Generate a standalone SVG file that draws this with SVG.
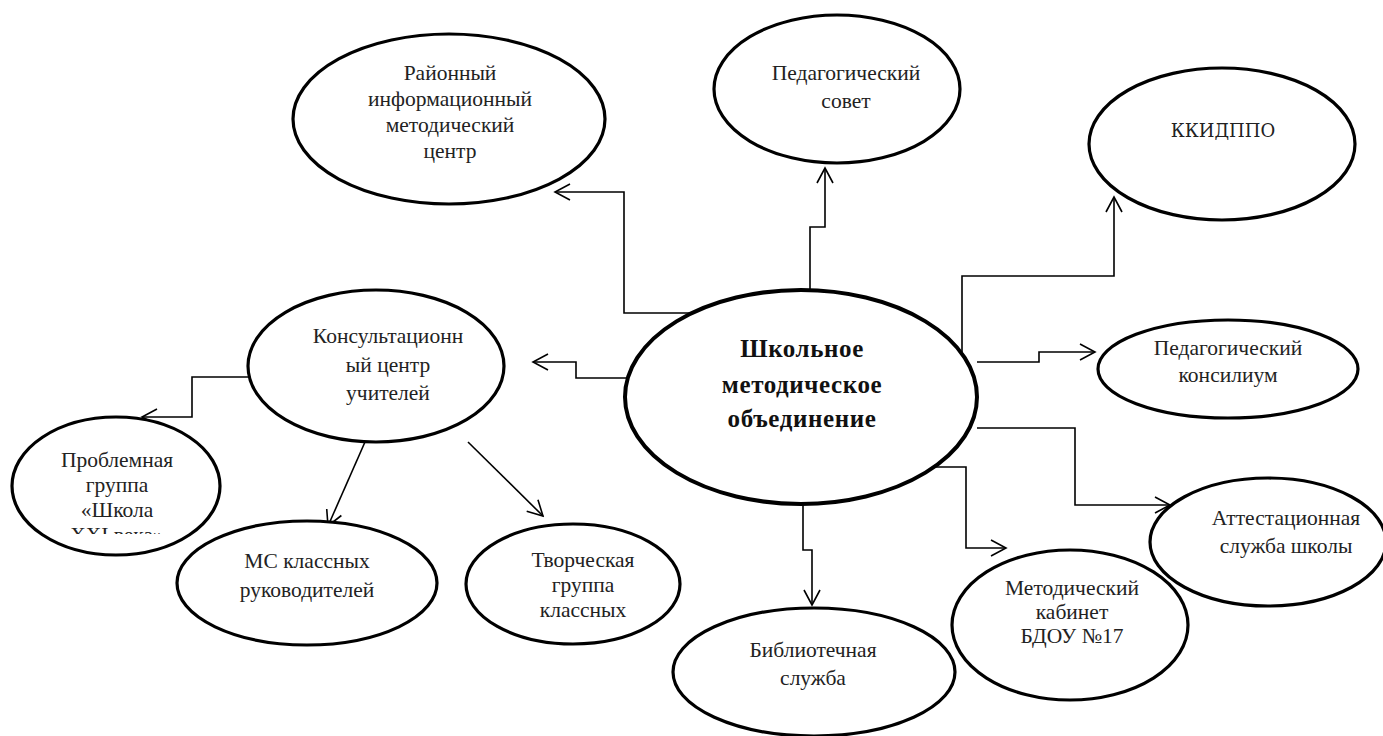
<svg xmlns="http://www.w3.org/2000/svg" width="1383" height="736" viewBox="0 0 1383 736">
<style>
.n ellipse{fill:#fff;stroke:#000;stroke-width:3.2}
.t{font-family:"Liberation Serif","Times New Roman",serif;font-size:21.5px;fill:#222;text-anchor:middle}
.k{font-family:"DejaVu Serif","Liberation Serif",serif;font-size:18px;fill:#222;text-anchor:middle}
.b{font-family:"Liberation Serif","Times New Roman",serif;font-size:25px;font-weight:bold;fill:#111;text-anchor:middle;letter-spacing:0.6px}
.c polyline{fill:none;stroke:#000;stroke-width:1.6;marker-end:url(#ah)}
</style>
<defs>
<marker id="ah" viewBox="-16 -10 18 20" refX="0" refY="0" markerWidth="18" markerHeight="20" markerUnits="userSpaceOnUse" orient="auto">
<path d="M-15,-8 L0,0 L-15,8" fill="none" stroke="#000" stroke-width="1.6"/>
</marker>
<clipPath id="cp"><rect x="0" y="0" width="300" height="534"/></clipPath>
</defs>
<rect width="1383" height="736" fill="#fff"/>
<g class="c" id="connectors">
<polyline points="700,313 624,313 624,192 555,192"/>
<polyline points="810,290 810,227 825,227 825,168"/>
<polyline points="962,352 962,276 1114,276 1114,197"/>
<polyline points="627,378 576,378 576,362 533,362"/>
<polyline points="248,377 192,377 192,417 142,417"/>
<polyline points="365,442 328,526"/>
<polyline points="468,442 543,516"/>
<polyline points="803,490 803,550 812,550 812,605"/>
<polyline points="977,362 1039,362 1039,352 1095,352"/>
<polyline points="977,428 1075,428 1075,505 1170,505"/>
<polyline points="923,467 966,467 966,548 1006,548"/>
</g>
<g class="n" id="n-rimc"><ellipse cx="449" cy="119" rx="156" ry="85"/>
<text class="t" x="450" y="80">Районный</text><text class="t" x="450" y="106">информационный</text><text class="t" x="450" y="132">методический</text><text class="t" x="450" y="158">центр</text></g>
<g class="n" id="n-pedsovet"><ellipse cx="837" cy="89" rx="123" ry="74"/>
<text class="t" x="846" y="80">Педагогический</text><text class="t" x="846" y="108">совет</text></g>
<g class="n" id="n-kkidppo"><ellipse cx="1222" cy="144" rx="133" ry="76"/>
<text class="k" x="1223" y="137">ККИДППО</text></g>
<g class="n" id="n-main"><ellipse cx="801" cy="397" rx="176" ry="107" style="stroke-width:4"/>
<text class="b" x="802" y="357">Школьное</text><text class="b" x="802" y="393">методическое</text><text class="b" x="802" y="427">объединение</text></g>
<g class="n" id="n-konsult"><ellipse cx="376" cy="366" rx="128" ry="76"/>
<text class="t" x="388" y="343">Консультационн</text><text class="t" x="388" y="372">ый центр</text><text class="t" x="388" y="400">учителей</text></g>
<g class="n" id="n-problem"><ellipse cx="116" cy="486" rx="104" ry="69"/>
<text class="t" x="117" y="467">Проблемная</text><text class="t" x="117" y="492">группа</text><text class="t" x="117" y="517">«Школа</text><text class="t" x="117" y="542" clip-path="url(#cp)">XXI века»</text></g>
<g class="n" id="n-ms"><ellipse cx="307" cy="583" rx="130" ry="62"/>
<text class="t" x="307" y="568">МС классных</text><text class="t" x="307" y="597">руководителей</text></g>
<g class="n" id="n-tvor"><ellipse cx="573" cy="584" rx="107" ry="60"/>
<text class="t" x="583" y="567">Творческая</text><text class="t" x="583" y="592">группа</text><text class="t" x="583" y="617">классных</text></g>
<g class="n" id="n-bibl"><ellipse cx="814" cy="672" rx="141" ry="64"/>
<text class="t" x="813" y="657">Библиотечная</text><text class="t" x="813" y="685">служба</text></g>
<g class="n" id="n-konsil"><ellipse cx="1228" cy="369" rx="130" ry="49"/>
<text class="t" x="1228" y="355">Педагогический</text><text class="t" x="1228" y="382">консилиум</text></g>
<g class="n" id="n-metkab"><ellipse cx="1070" cy="625" rx="118" ry="75"/>
<text class="t" x="1072" y="595">Методический</text><text class="t" x="1072" y="619">кабинет</text><text class="t" x="1072" y="643">БДОУ №17</text></g>
<g class="n" id="n-attest"><ellipse cx="1268" cy="542" rx="118" ry="64"/>
<text class="t" x="1286" y="525">Аттестационная</text><text class="t" x="1286" y="553">служба школы</text></g>
</svg>
